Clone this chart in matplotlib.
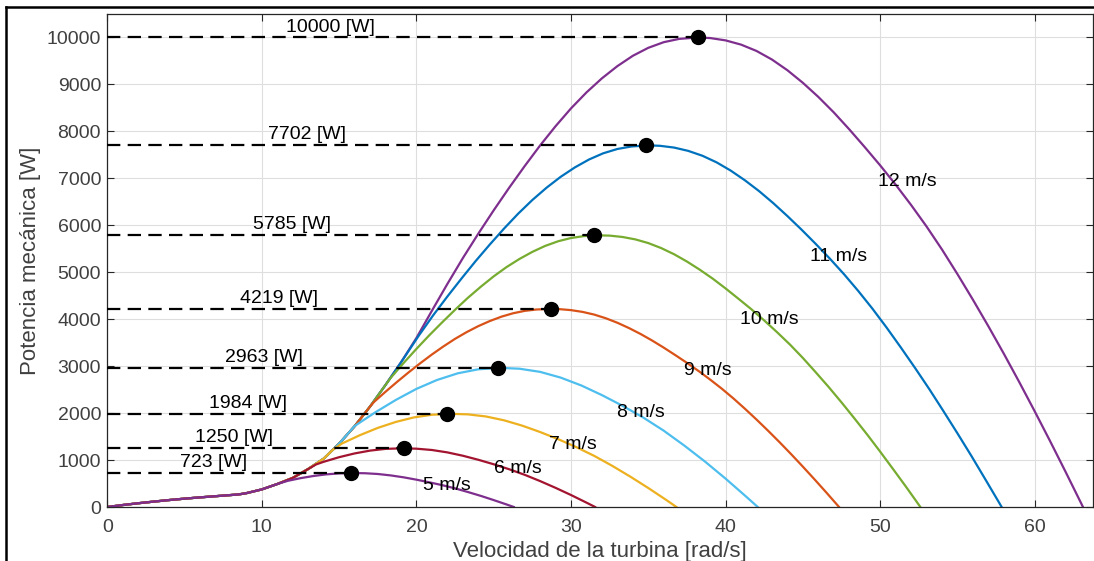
import matplotlib
matplotlib.use("Agg")
import matplotlib.pyplot as plt
from matplotlib.lines import Line2D

plt.rcParams['font.family'] = ['Liberation Sans', 'DejaVu Sans']

# ---------------- data ----------------
speeds = [5, 6, 7, 8, 9, 10, 11, 12]
speed_labels = ["5 m/s", "6 m/s", "7 m/s", "8 m/s", "9 m/s", "10 m/s", "11 m/s", "12 m/s"]

# common low-speed part shared by all curves
w_low = [0, 1, 2, 3, 4, 5, 6, 7, 8, 8.5, 9, 10, 11, 12, 13, 14, 15, 16, 17, 18, 19, 20]
p_low = [0, 42, 80, 115, 148, 178, 205, 230, 255, 268, 295, 375, 490, 620, 810, 1030, 1350, 1720, 2140, 2600, 3080, 3600]

w5 = w_low[:13] + [11.67, 12.5, 13.33, 14.17, 15, 15.92, 16.67, 17.5, 18.33, 19.17, 20, 20.83, 21.67,
                   22.5, 23.33, 24.17, 25, 25.83, 26.25, 26.3]
p5 = p_low[:13] + [557, 614, 660, 695, 716, 723, 719, 703, 673, 632, 582, 526, 465,
                   397, 319, 236, 147, 54, 6, 0]

w6 = w_low[:15] + [13.5, 14, 15, 16, 17, 18, 19.1, 20, 21, 22, 23, 24, 25, 26, 27, 28, 29, 30, 31, 31.5, 31.56]
p6 = p_low[:15] + [906, 963, 1061, 1141, 1201, 1238, 1250, 1242, 1214, 1163, 1092, 1006, 910, 804, 686,
                   552, 408, 255, 93, 10, 0]

w7 = w_low[:16] + [14.6, 15.17, 16.33, 17.5, 18.67, 19.83, 21, 22.28, 23.33, 24.5, 25.67, 26.83, 28,
                   29.17, 30.33, 31.5, 32.67, 33.83, 35, 36.17, 36.75, 36.82]
p7 = p_low[:16] + [1222, 1350, 1528, 1685, 1812, 1908, 1965, 1984, 1973, 1928, 1846, 1734, 1597,
                   1444, 1277, 1089, 876, 648, 404, 148, 16, 0]

w8 = w_low[:17] + [16, 17.33, 18.67, 20, 21.33, 22.67, 24, 25.47, 26.67, 28, 29.33, 30.67, 32, 33.33,
                   34.67, 36, 37.33, 38.67, 40, 41.33, 42, 42.08]
p8 = p_low[:17] + [1724, 2015, 2281, 2516, 2705, 2847, 2933, 2963, 2945, 2878, 2756, 2588, 2383, 2156,
                   1906, 1625, 1308, 967, 604, 221, 24, 0]

w9 = w_low[:19] + [17.25, 18, 18.75, 19.5, 20.25, 21, 21.75, 22.5, 23.25, 24, 24.75, 25.5, 26.25, 27,
                   27.75, 28.65, 29.25, 30, 30.75, 31.5, 32.25, 33, 33.75, 34.5, 35.25, 36, 36.75,
                   37.5, 38.25, 39, 39.75, 40.5, 41.25, 42, 42.75, 43.5, 44.25, 45, 45.75, 46.5,
                   47.25, 47.34]
p9 = p_low[:19] + [2236, 2455, 2666, 2869, 3063, 3248, 3421, 3582, 3725, 3852, 3961, 4054, 4126, 4177,
                   4206, 4219, 4214, 4193, 4155, 4098, 4020, 3924, 3811, 3685, 3545, 3394, 3234,
                   3070, 2897, 2714, 2521, 2314, 2093, 1863, 1624, 1377, 1122, 859, 590, 315,
                   34, 0]

w10 = w_low[:20] + [18.33, 19.17, 20, 20.83, 21.67, 22.5, 23.33, 24.17, 25, 25.83, 26.67, 27.5, 28.33,
                    29.17, 30, 30.83, 31.83, 32.5, 33.33, 34.17, 35, 35.83, 36.67, 37.5, 38.33,
                    39.17, 40, 40.83, 41.67, 42.5, 43.33, 44.17, 45, 45.83, 46.67, 47.5, 48.33,
                    49.17, 50, 50.83, 51.67, 52.5, 52.6]
p10 = p_low[:20] + [2749, 3067, 3368, 3657, 3935, 4201, 4456, 4693, 4913, 5110, 5284, 5434, 5561,
                    5660, 5729, 5770, 5785, 5780, 5751, 5699, 5621, 5515, 5383, 5228, 5054,
                    4863, 4655, 4436, 4211, 3973, 3723, 3458, 3174, 2870, 2555, 2228, 1889,
                    1539, 1179, 810, 432, 47, 0]

w11 = w_low[:21] + [20.17, 21.08, 22.0, 22.92, 23.83, 24.75, 25.67, 26.58, 27.5, 28.42, 29.33, 30.25,
                    31.17, 32.08, 33.0, 33.92, 35.02, 35.75, 36.67, 37.58, 38.5, 39.42, 40.33, 41.25,
                    42.17, 43.08, 44.0, 44.92, 45.83, 46.75, 47.67, 48.58, 49.5, 50.42, 51.33, 52.25,
                    53.17, 54.08, 55.0, 55.92, 56.83, 57.75, 57.86]
p11 = p_low[:21] + [3659, 4082, 4483, 4868, 5238, 5592, 5931, 6247, 6539, 6801, 7032, 7233,
                    7402, 7533, 7625, 7679, 7702, 7693, 7655, 7585, 7481, 7340, 7165, 6958,
                    6727, 6473, 6196, 5905, 5604, 5288, 4955, 4602, 4224, 3820, 3401, 2965,
                    2515, 2049, 1569, 1078, 575, 62, 0]

w12 = w_low + [21, 22, 23, 24, 25, 26, 27, 28, 29, 30, 31, 32, 33, 34, 35, 36, 37, 38.2, 39, 40, 41,
               42, 43, 44, 45, 46, 47, 48, 49, 50, 51, 52, 53, 54, 55, 56, 57, 58, 59, 60, 61, 62,
               63, 63.12]
p12 = p_low + [4180, 4750, 5300, 5820, 6320, 6800, 7260, 7700, 8110, 8490, 8830, 9130, 9390, 9610,
               9780, 9900, 9970, 10000, 9988, 9938, 9848, 9713, 9530, 9302, 9034, 8734, 8404, 8044,
               7666, 7276, 6866, 6433, 5975, 5484, 4960, 4415, 3850, 3265, 2660, 2037, 1399, 746,
               81, 0]

# maximum power points
peak_w = [15.75, 19.2, 21.95, 25.3, 28.7, 31.5, 34.85, 38.2]
peak_p = [723, 1250, 1984, 2963, 4219, 5785, 7702, 10000]
peak_labels = ["723 [W]", "1250 [W]", "1984 [W]", "2963 [W]", "4219 [W]", "5785 [W]", "7702 [W]", "10000 [W]"]

x_ticks = [0, 10, 20, 30, 40, 50, 60]
y_ticks = [0, 1000, 2000, 3000, 4000, 5000, 6000, 7000, 8000, 9000, 10000]

# ---------------- layout / style ----------------
peak_label_x = [6.9, 8.19, 9.1, 10.14, 11.1, 11.95, 12.92, 14.41]
speed_label_pos = [(22.0, 457), (26.53, 819), (30.09, 1330), (34.49, 2010),
                   (38.86, 2904), (42.86, 3989), (47.3, 5340), (51.76, 6936)]
colors = ['#7E2F8E', '#A2142F', '#EDB120', '#4DBEEE', '#D95319', '#77AC30', '#0072BD', '#7E2F8E']

curves_w = [w5, w6, w7, w8, w9, w10, w11, w12]
curves_p = [p5, p6, p7, p8, p9, p10, p11, p12]

W, H = 1094, 561
fig = plt.figure(figsize=(W / 100, H / 100), dpi=100)
ax = fig.add_axes([107.3 / W, 1 - 507 / H, (1092.7 - 107.3) / W, (507 - 14) / H])

ax.grid(True, color='#dedede', linewidth=0.8)
ax.set_axisbelow(True)

order = [7, 6, 5, 4, 3, 2, 1, 0]
for i in order:
    ax.plot(curves_w[i], curves_p[i], color=colors[i], linewidth=1.6, zorder=2,
            solid_joinstyle='round')

for i in range(len(peak_w)):
    ax.plot([0, peak_w[i]], [peak_p[i], peak_p[i]], color='black', linestyle=(0, (6, 3.3)),
            linewidth=1.6, zorder=3)
    ax.annotate(peak_labels[i], xy=(peak_label_x[i], peak_p[i]), xytext=(0, 7.5),
                textcoords='offset points', ha='center', va='center', fontsize=14,
                color='black', zorder=4)

ax.plot(peak_w, peak_p, linestyle='none', marker='o', markersize=10, color='black', zorder=5)

for i in range(len(speeds)):
    ax.text(speed_label_pos[i][0], speed_label_pos[i][1], speed_labels[i], ha='center', va='center',
            fontsize=14, color='black', zorder=4)

ax.set_xlim(0, 63.75)
ax.set_ylim(0, 10500)
ax.set_xticks(x_ticks)
ax.set_yticks(y_ticks)
ax.tick_params(direction='in', length=5, width=0.8, top=True, right=True,
               labelsize=14, labelcolor='#404040', color='#262626')
ax.tick_params(axis='x', pad=9)
ax.tick_params(axis='y', pad=4.5)
for s in ax.spines.values():
    s.set_color('#262626')
    s.set_linewidth(0.9)

ax.set_xlabel('Velocidad de la turbina [rad/s]', fontsize=16, color='#404040', labelpad=3)
ax.set_ylabel('Potencia mecánica [W]', fontsize=16, color='#404040', labelpad=4)

# black frame at left and top of the screenshot
fig.add_artist(Line2D([6 / W, 6 / W], [0, 1 - 6.5 / H], color='black', linewidth=1.8,
                      transform=fig.transFigure))
fig.add_artist(Line2D([6 / W, 1], [1 - 6.5 / H, 1 - 6.5 / H], color='black', linewidth=1.8,
                      transform=fig.transFigure))

fig.savefig('out.png', dpi=100, facecolor='white')
